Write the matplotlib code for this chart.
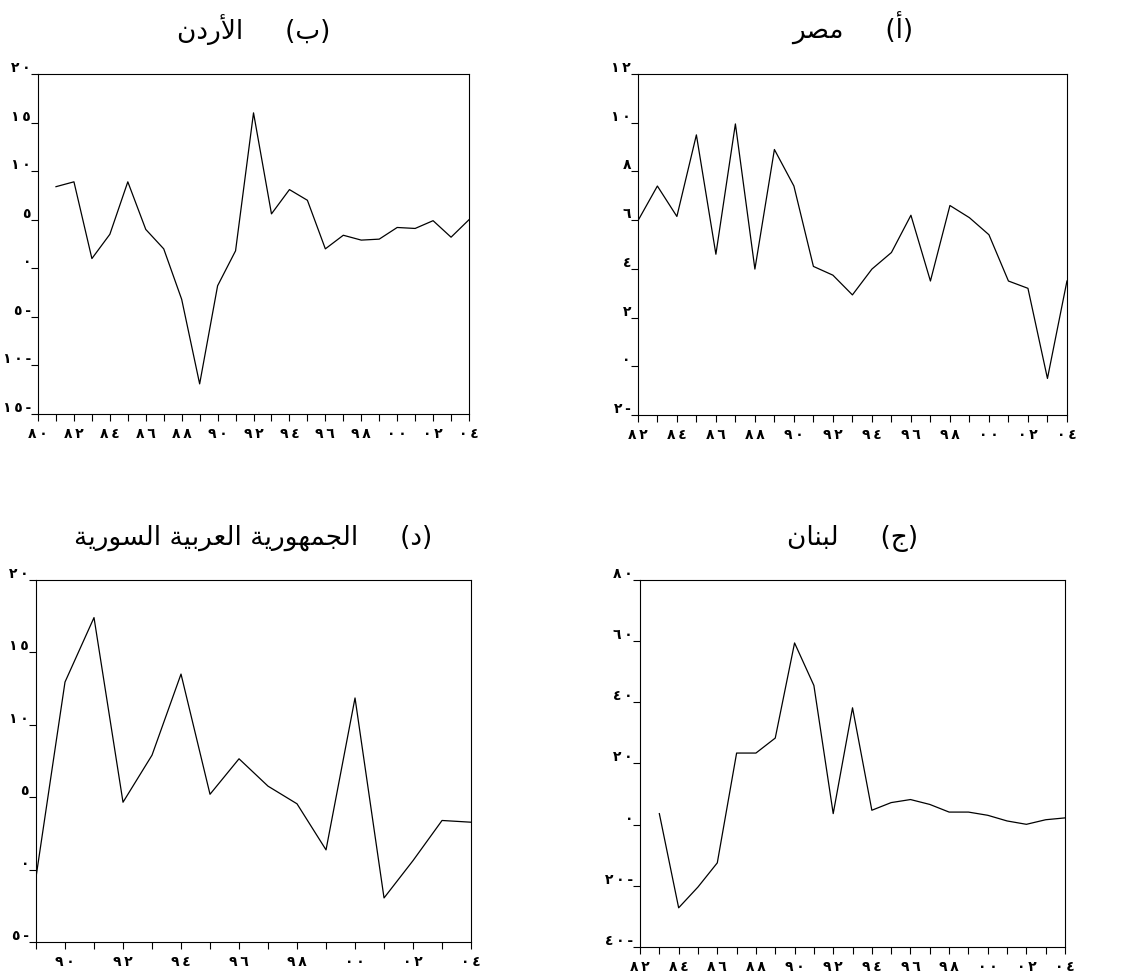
import matplotlib
matplotlib.use('Agg')
import matplotlib.pyplot as plt
from matplotlib.ticker import FixedLocator, FuncFormatter

plt.rcParams['font.family'] = ['DejaVu Sans']

# (أ) مصر
years_egypt = list(range(1982, 2005))
egypt = [5.97, 7.4, 6.15, 9.5, 4.6, 9.95, 3.99, 8.9, 7.4, 4.1, 3.74, 2.93,
         3.99, 4.67, 6.2, 3.5, 6.6, 6.1, 5.4, 3.5, 3.2, -0.5, 3.5]

# (ب) الأردن
years_jordan = list(range(1981, 2005))
jordan = [8.4, 8.9, 1.0, 3.5, 8.9, 4.0, 2.0, -3.2, -11.9, -1.8, 1.8, 16.0,
          5.6, 8.1, 7.0, 2.0, 3.4, 2.9, 3.0, 4.2, 4.1, 4.9, 3.2, 5.0]

# (ج) لبنان
years_lebanon = list(range(1983, 2005))
lebanon = [3.6, -27.2, -20.4, -12.5, 23.4, 23.4, 28.3, 59.4, 45.5, 3.6, 38.2,
           4.7, 7.2, 8.2, 6.6, 4.1, 4.1, 3.05, 1.2, 0.1, 1.6, 2.2]

# (د) الجمهورية العربية السورية
years_syria = list(range(1989, 2005))
syria = [-0.53, 12.95, 17.4, 4.65, 7.9, 13.5, 5.2, 7.65, 5.76, 4.54, 1.36,
         11.85, -1.96, 0.62, 3.39, 3.27]

title_egypt = '(أ)     مصر'
title_jordan = '(ب)     الأردن'
title_lebanon = '(ج)     لبنان'
title_syria = '(د)     الجمهورية العربية السورية'

# isolated, final, initial, medial (None = does not join the next letter)
FORMS = {
    'ا': ('\ufe8d', '\ufe8e', None, None),
    'أ': ('\ufe83', '\ufe84', None, None),
    'ر': ('\ufead', '\ufeae', None, None),
    'د': ('\ufea9', '\ufeaa', None, None),
    'و': ('\ufeed', '\ufeee', None, None),
    'ة': ('\ufe93', '\ufe94', None, None),
    'ل': ('\ufedd', '\ufede', '\ufedf', '\ufee0'),
    'ن': ('\ufee5', '\ufee6', '\ufee7', '\ufee8'),
    'م': ('\ufee1', '\ufee2', '\ufee3', '\ufee4'),
    'ص': ('\ufeb9', '\ufeba', '\ufebb', '\ufebc'),
    'ب': ('\ufe8f', '\ufe90', '\ufe91', '\ufe92'),
    'ج': ('\ufe9d', '\ufe9e', '\ufe9f', '\ufea0'),
    'ه': ('\ufee9', '\ufeea', '\ufeeb', '\ufeec'),
    'ي': ('\ufef1', '\ufef2', '\ufef3', '\ufef4'),
    'ع': ('\ufec9', '\ufeca', '\ufecb', '\ufecc'),
    'س': ('\ufeb1', '\ufeb2', '\ufeb3', '\ufeb4'),
}
LAM_ALEF = {'ا': ('\ufefb', '\ufefc'), 'أ': ('\ufef7', '\ufef8')}
MIRROR = {'(': ')', ')': '('}


def shape(text):
    # matplotlib does no arabic shaping / bidi, so do it by hand
    out = []
    i = 0
    while i < len(text):
        c = text[i]
        if c not in FORMS:
            out.append(MIRROR.get(c, c))
            i += 1
            continue
        prev_joins = i > 0 and text[i - 1] in FORMS and FORMS[text[i - 1]][2] is not None
        if c == 'ل' and i + 1 < len(text) and text[i + 1] in LAM_ALEF:
            out.append(LAM_ALEF[text[i + 1]][1 if prev_joins else 0])
            i += 2
            continue
        iso, fin, ini, med = FORMS[c]
        next_joins = i + 1 < len(text) and text[i + 1] in FORMS and ini is not None
        if prev_joins and next_joins:
            out.append(med)
        elif prev_joins:
            out.append(fin)
        elif next_joins:
            out.append(ini)
        else:
            out.append(iso)
        i += 1
    return ''.join(reversed(out))


DIGITS = str.maketrans('0123456789', '٠١٢٣٤٥٦٧٨٩')
GAP = '\u2009'


def arabic_num(n):
    return GAP.join(str(n).translate(DIGITS))


def ylab(v, pos):
    s = arabic_num(abs(int(round(v))))
    return s + GAP + '-' if v < 0 else s


def panel(rect, years, values, x0, yticks, title):
    ax = fig.add_axes(rect)
    ax.plot(years, values, color='black', lw=0.9)
    ax.set_xlim(x0, 2004)
    ax.set_ylim(yticks[0], yticks[-1])
    ticks = list(range(x0, 2005))
    ax.xaxis.set_major_locator(FixedLocator(ticks))
    ax.set_xticklabels([arabic_num(str(t)[2:]) if t % 2 == 0 else '' for t in ticks])
    ax.yaxis.set_major_locator(FixedLocator(yticks))
    ax.yaxis.set_major_formatter(FuncFormatter(ylab))
    ax.tick_params(axis='x', direction='out', length=5, width=0.8, pad=4, labelsize=10)
    ax.tick_params(axis='y', direction='out', length=5, width=0.8, pad=0, labelsize=10)
    for lab in ax.get_yticklabels() + ax.get_xticklabels():
        lab.set_fontweight('bold')
    for lab in ax.get_yticklabels():
        lab.set_va('bottom')
    for s in ax.spines.values():
        s.set_linewidth(0.8)
    ax.set_title(shape(title), fontsize=19, pad=26)
    return ax


fig = plt.figure(figsize=(11.25, 9.79), dpi=100)

panel([0.0338, 0.5761, 0.3831, 0.3473], years_jordan, jordan, 1980,
      [-15, -10, -5, 0, 5, 10, 15, 20], title_jordan)
panel([0.567, 0.5751, 0.3814, 0.3483], years_egypt, egypt, 1982,
      [-2, 0, 2, 4, 6, 8, 10, 12], title_egypt)
panel([0.032, 0.0368, 0.3867, 0.3698], years_syria, syria, 1989,
      [-5, 0, 5, 10, 15, 20], title_syria)
panel([0.5689, 0.0317, 0.3778, 0.3749], years_lebanon, lebanon, 1982,
      [-40, -20, 0, 20, 40, 60, 80], title_lebanon)

fig.savefig('out.png', dpi=100)
